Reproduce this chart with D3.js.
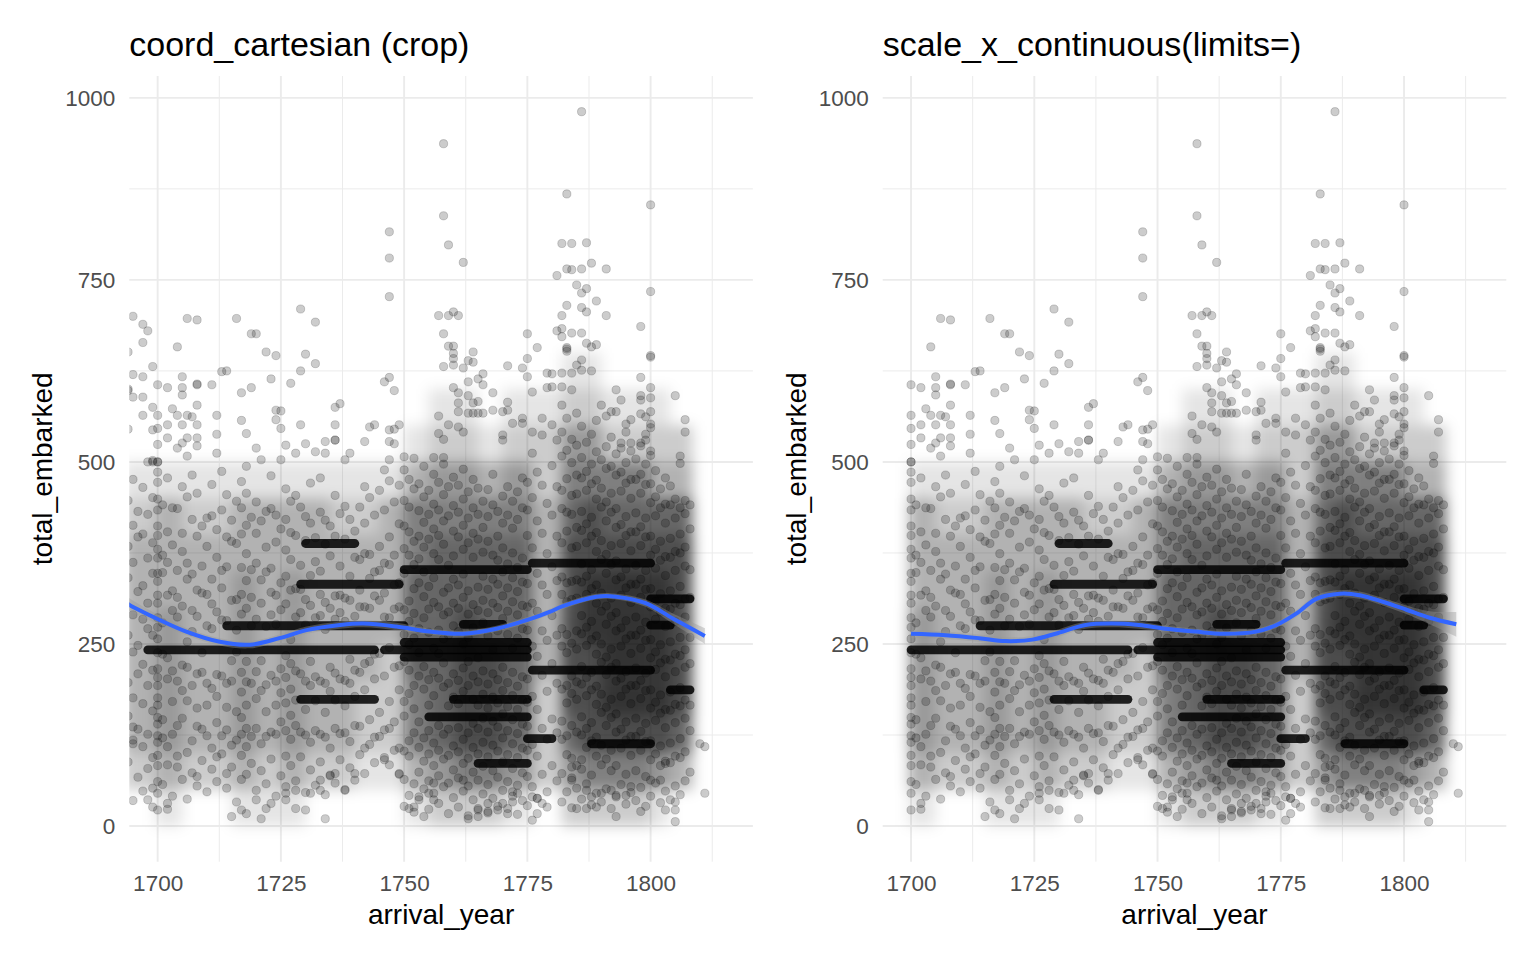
<!doctype html>
<html lang="en">
<head>
    <meta charset="utf-8">
    <title>arrival_year vs total_embarked</title>
    <script src="https://cdnjs.cloudflare.com/ajax/libs/d3/7.8.5/d3.min.js" type="text/JavaScript"></script>
    <style>
        body { margin: 0; background: #ffffff; }
        svg text { font-family: "Liberation Sans", Arial, sans-serif; }
    </style>
</head>
<body>
<svg id="chart" width="1536" height="960"></svg>
<script>

    // ---- data ----
    const panelTitles = ["coord_cartesian (crop)", "scale_x_continuous(limits=)"];
    const xTicks = [1700, 1725, 1750, 1775, 1800];
    const xMinor = [1712.5, 1737.5, 1762.5, 1787.5, 1812.5];
    const yTicks = [0, 250, 500, 750, 1000];
    const yMinor = [125, 375, 625, 875];

    // voyages that all arrived in 1700 (the dark column)
    const year1700 = [22, 45, 61, 83, 97, 115, 124, 140, 149, 166, 176, 193, 204, 216, 238, 257, 273, 286, 306, 317, 336,
        347, 368, 380, 399, 412, 434, 449, 472, 486, 500, 500, 524, 546, 564, 606];

    // body of the cloud, one row per arrival year
    const bodyByYear = [
        [1694, [88, 151, 197, 262, 341, 384, 447]],
        [1695, [35, 118, 176, 239, 290, 362, 413, 476]],
        [1696, [67, 133, 209, 248, 322, 397, 432]],
        [1697, [48, 109, 168, 222, 284, 330, 401, 465]],
        [1698, [79, 126, 193, 271, 306, 368, 428]],
        [1699, [26, 94, 158, 214, 262, 347, 389, 451]],
        [1701, [57, 121, 146, 236, 279, 348, 372, 441]],
        [1702, [84, 109, 202, 231, 317, 362, 404, 478]],
        [1703, [41, 126, 171, 213, 296, 323, 386, 437]],
        [1704, [96, 138, 199, 287, 314, 351, 436]],
        [1705, [64, 148, 186, 221, 302, 377, 402, 466]],
        [1706, [37, 101, 172, 218, 253, 339, 361, 452]],
        [1707, [73, 117, 193, 267, 296, 346, 421, 482]],
        [1708, [55, 137, 162, 209, 288, 324, 398, 457]],
        [1709, [90, 133, 211, 238, 320, 357, 412]],
        [1710, [47, 124, 166, 196, 275, 318, 384, 423]],
        [1711, [78, 107, 189, 271, 305, 339, 426, 469]],
        [1712, [61, 142, 178, 208, 294, 369, 407]],
        [1713, [99, 124, 206, 283, 327, 351, 434, 487]],
        [1714, [52, 132, 163, 196, 282, 356, 397, 455]],
        [1715, [81, 111, 199, 227, 310, 391, 420]],
        [1716, [33, 118, 157, 239, 269, 311, 388, 446]],
        [1717, [64, 97, 126, 149, 184, 211, 291, 318, 355, 401, 437, 473]],
        [1718, [71, 109, 134, 166, 198, 226, 299, 337, 374, 413, 457]],
        [1719, [86, 123, 196, 275, 314, 352, 424]],
        [1720, [49, 134, 175, 212, 284, 361, 402, 445]],
        [1721, [76, 113, 186, 227, 306, 338, 419]],
        [1722, [58, 123, 157, 194, 274, 349, 383, 432]],
        [1723, [92, 129, 207, 290, 321, 354, 436, 481]],
        [1724, [41, 126, 166, 199, 277, 317, 390, 427]],
        [1725, [69, 143, 183, 216, 297, 334, 408]],
        [1726, [54, 96, 131, 169, 204, 234, 305, 343, 379, 421, 463]],
        [1727, [83, 119, 152, 188, 223, 256, 324, 366, 403, 446]],
        [1728, [62, 138, 173, 213, 287, 326, 399, 454]],
        [1729, [95, 129, 209, 293, 325, 358, 438]],
        [1730, [46, 125, 160, 199, 276, 311, 392, 425]],
        [1731, [77, 115, 193, 226, 303, 344, 416, 471]],
        [1732, [56, 131, 172, 205, 286, 363, 396]],
        [1733, [88, 126, 199, 289, 318, 350, 431, 478]],
        [1734, [43, 122, 156, 196, 270, 307, 387, 420]],
        [1735, [69, 107, 185, 218, 299, 371, 412]],
        [1736, [59, 134, 173, 210, 284, 316, 398, 454]],
        [1737, [91, 127, 202, 293, 317, 357, 429]],
        [1738, [50, 128, 165, 200, 281, 313, 394, 439]],
        [1739, [80, 116, 196, 229, 310, 343, 421]],
        [1740, [63, 138, 178, 214, 288, 369, 405]],
        [1741, [98, 137, 211, 301, 324, 366, 438]],
        [1742, [72, 107, 187, 223, 301, 374, 416, 466]],
        [1743, [112, 146, 226, 299, 340, 373, 451]],
        [1744, [87, 122, 202, 236, 316, 349, 427]],
        [1745, [123, 156, 237, 310, 351, 384, 461]],
        [1746, [94, 132, 206, 287, 320, 361, 434, 489]],
        [1747, [134, 171, 245, 286, 359, 397, 474]],
        [1748, [104, 143, 218, 298, 331, 372, 445]],
        [1749, [71, 107, 187, 220, 301, 334, 415, 468]],
        [1750, [27, 64, 103, 151, 171, 226, 263, 297, 347, 381, 412, 447, 489]],
        [1751, [42, 96, 117, 182, 214, 249, 281, 309, 372, 404, 438, 476]],
        [1752, [19, 58, 128, 161, 193, 258, 292, 326, 359, 391, 463, 505]],
        [1753, [36, 74, 108, 143, 206, 238, 271, 334, 367, 398, 433, 470]],
        [1754, [51, 89, 121, 188, 219, 286, 315, 349, 383, 417, 452, 494]],
        [1755, [23, 62, 99, 131, 166, 201, 266, 298, 329, 394, 428, 461]],
        [1756, [45, 83, 114, 179, 211, 244, 307, 341, 374, 408, 442, 483]],
        [1757, [31, 69, 104, 138, 203, 237, 269, 301, 366, 399, 434, 472]],
        [1758, [54, 92, 126, 191, 224, 257, 290, 321, 387, 419, 455, 497]],
        [1759, [17, 59, 97, 133, 165, 196, 262, 294, 327, 358, 426, 466]],
        [1760, [39, 77, 110, 177, 209, 275, 306, 339, 371, 405, 440, 479]],
        [1761, [26, 66, 102, 135, 168, 200, 267, 299, 331, 397, 431, 468]],
        [1762, [48, 86, 119, 185, 217, 250, 314, 346, 380, 413, 449, 490]],
        [1763, [14, 55, 93, 128, 193, 226, 259, 291, 323, 389, 423, 459]],
        [1764, [36, 74, 108, 141, 174, 206, 272, 304, 369, 402, 437, 476]],
        [1765, [22, 63, 99, 134, 166, 198, 231, 296, 328, 394, 428, 464]],
        [1766, [44, 82, 115, 148, 181, 213, 279, 310, 343, 376, 410, 446]],
        [1767, [18, 57, 95, 129, 162, 195, 261, 293, 325, 391, 425, 462]],
        [1768, [38, 76, 111, 144, 177, 209, 242, 306, 339, 372, 441, 483]],
        [1769, [27, 67, 103, 136, 169, 201, 268, 300, 332, 365, 398, 432]],
        [1770, [49, 88, 121, 154, 186, 218, 285, 316, 349, 382, 416, 453]],
        [1771, [24, 61, 98, 131, 164, 197, 263, 295, 327, 360, 427, 466]],
        [1772, [41, 79, 113, 146, 179, 211, 244, 308, 341, 375, 409, 446]],
        [1773, [16, 56, 94, 127, 160, 192, 258, 290, 322, 355, 421, 459]],
        [1774, [35, 73, 107, 140, 173, 205, 271, 303, 335, 368, 437, 478]],
        [1775, [28, 68, 104, 137, 170, 202, 269, 301, 333, 399, 434, 472]],
        [1776, [54, 112, 178, 247, 306, 382, 451, 512]],
        [1777, [38, 96, 160, 233, 295, 347, 419, 486]],
        [1778, [71, 134, 207, 268, 331, 402, 468, 537]],
        [1779, [47, 119, 185, 255, 318, 374, 443]],
        [1780, [83, 147, 223, 289, 356, 427, 495, 551]],
        [1781, [62, 128, 196, 262, 337, 398, 466, 530]],
        [1782, [33, 72, 119, 144, 188, 247, 271, 318, 342, 389, 436, 461, 508, 541, 578]],
        [1783, [47, 98, 124, 169, 193, 238, 263, 308, 334, 405, 431, 477, 516, 560]],
        [1784, [25, 66, 93, 138, 182, 206, 251, 311, 336, 382, 428, 454, 499, 531]],
        [1785, [52, 83, 129, 174, 198, 243, 268, 313, 338, 384, 410, 456, 482, 523, 567]],
        [1786, [37, 78, 125, 150, 195, 219, 264, 289, 335, 360, 406, 432, 478, 506, 549]],
        [1787, [58, 108, 134, 179, 204, 248, 273, 318, 343, 389, 415, 461, 487, 527]],
        [1788, [29, 70, 117, 142, 187, 211, 256, 281, 326, 352, 398, 424, 470, 497, 538]],
        [1789, [45, 96, 122, 167, 192, 236, 261, 306, 331, 377, 403, 449, 475, 514, 557]],
        [1790, [33, 84, 111, 156, 181, 225, 250, 295, 320, 366, 392, 438, 464, 503]],
        [1791, [51, 92, 138, 163, 208, 232, 277, 302, 347, 373, 419, 445, 491, 521, 563]],
        [1792, [24, 76, 104, 149, 174, 218, 243, 288, 313, 359, 385, 431, 457, 494, 534]],
        [1793, [42, 83, 129, 154, 199, 223, 268, 293, 338, 364, 410, 436, 482, 511]],
        [1794, [57, 107, 133, 178, 203, 247, 272, 317, 342, 388, 414, 460, 486, 526]],
        [1795, [30, 71, 118, 143, 188, 212, 257, 282, 327, 353, 399, 425, 471, 499, 541]],
        [1796, [46, 97, 123, 168, 193, 237, 262, 307, 332, 378, 404, 450, 476, 515]],
        [1797, [35, 76, 123, 148, 193, 217, 262, 287, 332, 358, 404, 430, 476, 504]],
        [1798, [53, 104, 130, 175, 200, 244, 269, 314, 339, 385, 411, 457, 483, 522, 566]],
        [1799, [27, 68, 116, 141, 186, 210, 255, 280, 325, 351, 397, 423, 469, 497, 538]],
        [1800, [41, 91, 117, 162, 187, 231, 256, 301, 326, 372, 398, 444, 470, 509, 552, 588]],
        [1801, [59, 99, 145, 170, 215, 239, 284, 309, 354, 380, 426, 452, 488]],
        [1802, [32, 83, 110, 155, 180, 224, 249, 294, 319, 365, 391, 437, 463]],
        [1803, [48, 89, 135, 160, 205, 229, 274, 299, 344, 370, 416, 442, 478]],
        [1804, [36, 87, 114, 159, 184, 228, 253, 298, 323, 369, 395, 441, 467]],
        [1805, [55, 96, 142, 167, 212, 236, 281, 306, 351, 377, 423, 449]],
        [1806, [43, 94, 120, 165, 190, 234, 259, 304, 329, 375, 401, 437]],
        [1807, [62, 102, 148, 173, 218, 242, 287, 312, 357, 383, 429, 447]],
        [1808, [74, 131, 166, 223, 259, 314, 352, 408, 441]]
    ];

    // sparse points above the cloud and along the bottom
    const outliers = [
        [1694, 651], [1694, 600], [1694, 598], [1695, 700], [1697, 689], [1698, 680], [1697, 664], [1706, 697], [1708, 695],
        [1716, 697], [1704, 658], [1719, 676], [1720, 676], [1729, 710], [1732, 692], [1722, 651], [1724, 646], [1730, 648],
        [1732, 635], [1729, 625], [1713, 624], [1714, 625], [1699, 631], [1695, 620], [1697, 617], [1705, 617], [1723, 614],
        [1727, 608], [1711, 606], [1708, 606], [1708, 607], [1702, 602], [1705, 602], [1705, 592], [1717, 595],
        [1719, 602], [1695, 589], [1697, 589], [1708, 578], [1699, 575], [1703, 573], [1724, 571], [1725, 570], [1736, 575],
        [1737, 580], [1697, 564], [1704, 564], [1706, 564], [1707, 562], [1712, 564], [1717, 557], [1724, 558],
        [1729, 551], [1736, 551], [1694, 545], [1699, 544], [1702, 551], [1705, 551], [1708, 551], [1712, 538], [1718, 539],
        [1725, 546], [1702, 533], [1708, 533], [1706, 533], [1704, 519], [1705, 526], [1708, 522], [1720, 519], [1726, 523],
        [1728, 512], [1730, 525], [1732, 514], [1734, 512], [1734, 528], [1736, 530], [1712, 512], [1706, 508], [1699, 502],
        [1699, 500], [1698, 500], [1718, 494], [1721, 503], [1725, 503],
        [1758, 937], [1758, 838], [1759, 798], [1762, 774], [1747, 816], [1747, 780], [1747, 727], [1757, 701], [1759, 701],
        [1760, 706], [1761, 701], [1758, 676], [1759, 659], [1760, 659], [1760, 649], [1760, 642], [1760, 633], [1758, 631],
        [1764, 651], [1763, 639], [1764, 637], [1762, 629], [1775, 676], [1775, 642], [1774, 629], [1775, 617],
        [1771, 632], [1776, 596], [1779, 622], [1779, 602], [1766, 621], [1765, 614], [1766, 606], [1763, 610], [1768, 595],
        [1760, 602], [1761, 595], [1746, 610], [1747, 616], [1748, 598], [1761, 581], [1763, 591], [1764, 581], [1765, 583],
        [1761, 569], [1763, 567], [1764, 567], [1765, 567], [1766, 567], [1768, 571], [1770, 569], [1771, 571], [1771, 582],
        [1757, 563], [1759, 551], [1761, 548], [1762, 541], [1757, 539], [1758, 531], [1772, 553], [1774, 560], [1774, 553],
        [1776, 541], [1778, 560], [1770, 537], [1770, 530], [1736, 530], [1743, 548], [1744, 551], [1747, 544],
        [1748, 545], [1749, 551], [1742, 528], [1747, 528], [1748, 525], [1739, 512], [1738, 503], [1750, 507], [1747, 503],
        [1756, 506], [1758, 506],
        [1786, 981], [1783, 868], [1800, 853], [1782, 800], [1784, 800], [1787, 801], [1781, 756], [1783, 765], [1784, 764],
        [1786, 765], [1788, 773], [1791, 765], [1800, 734], [1785, 743], [1786, 732], [1787, 738], [1789, 721], [1783, 715],
        [1782, 701], [1786, 712], [1787, 706], [1791, 701], [1798, 686], [1781, 680], [1782, 683], [1782, 672], [1784, 677],
        [1786, 677], [1777, 657], [1783, 657], [1783, 655], [1783, 652], [1787, 663], [1788, 658], [1789, 661], [1800, 646],
        [1800, 644], [1798, 616], [1800, 602], [1805, 591], [1798, 591], [1798, 585], [1793, 599], [1794, 585], [1807, 558],
        [1807, 541], [1806, 508], [1806, 498], [1786, 640], [1785, 633], [1786, 626], [1784, 622], [1782, 622], [1780, 621],
        [1788, 625], [1782, 603], [1780, 603], [1784, 599], [1790, 578], [1792, 569], [1793, 569], [1796, 558], [1795, 552],
        [1798, 526], [1796, 526], [1794, 519], [1799, 530], [1800, 547], [1800, 569], [1799, 562], [1800, 515],
        [1698, 36], [1702, 31], [1702, 23], [1699, 52], [1704, 81], [1708, 68], [1712, 95], [1714, 72], [1715, 13],
        [1717, 22], [1718, 17], [1720, 36], [1722, 24], [1723, 31], [1721, 10], [1726, 36], [1726, 45], [1728, 24],
        [1730, 22], [1728, 49], [1731, 45], [1734, 10], [1733, 49], [1733, 63], [1735, 70], [1695, 113], [1695, 136],
        [1738, 49], [1740, 72], [1736, 72], [1746, 91], [1747, 84], [1749, 72], [1751, 24], [1752, 26], [1754, 13],
        [1753, 40], [1755, 45], [1756, 36], [1756, 59], [1762, 63], [1763, 10], [1765, 13], [1767, 20], [1769, 22],
        [1771, 17], [1765, 24], [1767, 31], [1770, 31], [1772, 33], [1772, 47], [1773, 45], [1776, 8], [1777, 17],
        [1776, 40], [1778, 31], [1785, 24], [1787, 24], [1789, 26], [1793, 13], [1798, 20], [1803, 22], [1805, 33],
        [1805, 22], [1805, 6], [1811, 45], [1810, 113], [1811, 109], [1777, 38], [1779, 26], [1788, 40], [1790, 45],
        [1792, 49], [1795, 42], [1796, 54], [1800, 63], [1802, 63], [1803, 86], [1784, 63], [1784, 81], [1786, 91],
        [1793, 40], [1787, 49]
    ];

    // runs of identical totals: [first year, last year, total_embarked]
    const bands = [
        [1698, 1744, 242], [1746, 1775, 242], [1714, 1750, 275], [1762, 1770, 277], [1729, 1749, 332], [1730, 1740, 388],
        [1729, 1744, 174], [1750, 1775, 352], [1776, 1800, 361], [1750, 1775, 252], [1750, 1775, 232], [1776, 1800, 214],
        [1760, 1775, 174], [1755, 1775, 150], [1765, 1775, 86], [1775, 1780, 120], [1788, 1800, 113], [1800, 1808, 312],
        [1800, 1804, 276], [1804, 1808, 187]
    ];

    // how dark the over-plotted cloud is: one string per year bin, one digit per 50 passengers (from 0 up)
    const densityEdges = [1693, 1699.5, 1705, 1710, 1715, 1720, 1725, 1730, 1735, 1740, 1745, 1750, 1755, 1760,
        1765, 1770, 1776, 1782, 1786, 1790, 1795, 1800, 1804, 1808.5];
    const densityCols = [
        "02333333210000", "13444433310000", "02333333210000", "02333333210000",
        "13444443310000", "12333333310000", "13444443310000", "02333333310000",
        "02333333210000", "01223333210000", "01222333310000", "13556665531000",
        "24666666542100", "25777766542100", "25777666531000", "14666666542100",
        "02223333322100", "24677777654210", "25777887754210", "25788887652100",
        "25788887652100", "14788887632100", "03677777632000"
    ];

    // loess fits: [year, fit, half-width of band]
    const smoothCrop = [
        [1693, 310, 10], [1694.2, 304, 9], [1700.4, 283, 6], [1705.8, 267, 5], [1712.6, 253, 5], [1718.7, 249, 5],
        [1724.7, 258, 5], [1730.2, 269, 5], [1737, 276, 5], [1741.7, 278, 5], [1748.4, 274, 5], [1755.2, 267, 4],
        [1762, 264, 4], [1768.7, 271, 4], [1775.5, 284, 4], [1779.5, 294, 4], [1782.2, 302, 4], [1789, 315, 4],
        [1793, 315, 4], [1799, 306, 5], [1804.5, 285, 7], [1811, 261, 11]
    ];
    const smoothLimits = [
        [1700, 264, 6], [1707, 262, 5], [1713.8, 258, 5], [1719.2, 254, 5], [1724.6, 256, 5], [1729.3, 264, 5],
        [1735.4, 276, 5], [1740.8, 278, 5], [1746.2, 276, 5], [1751.6, 271, 4], [1757.7, 267, 4], [1763.3, 264, 4],
        [1770, 267, 4], [1774.1, 276, 4], [1778.2, 292, 5], [1782.2, 312, 5], [1787, 319, 5], [1791, 317, 5],
        [1795.7, 308, 5], [1800.5, 297, 6], [1805.2, 286, 9], [1810.6, 277, 17]
    ];

    // ---- drawing ----
    const allPoints = []
        .concat(year1700.map(v => [1700, v]))
        .concat(...bodyByYear.map(([yr, vals]) => vals.map(v => [yr, v])))
        .concat(outliers);

    const svg = d3.select("#chart");
    svg.append("rect").attr("width", 1536).attr("height", 960).attr("fill", "#ffffff");

    const defs = svg.append("defs");
    defs.append("filter").attr("id", "soft")
        .attr("x", "-10%").attr("y", "-10%").attr("width", "120%").attr("height", "120%")
        .append("feGaussianBlur").attr("stdDeviation", 7);

    const panelWidth = 623.6;
    const y = d3.scaleLinear().domain([-49, 1030]).range([861.7, 76]);

    const panels = [
        {title: panelTitles[0], left: 129.3, minYear: -Infinity, smooth: smoothCrop},
        {title: panelTitles[1], left: 882.7, minYear: 1700, smooth: smoothLimits}
    ];

    panels.forEach((p, i) => {
        const x = d3.scaleLinear().domain([1694.25, 1820.75]).range([p.left, p.left + panelWidth]);
        const g = svg.append("g");

        defs.append("clipPath").attr("id", "clip" + i)
            .append("rect")
            .attr("x", p.left).attr("y", y.range()[1])
            .attr("width", panelWidth).attr("height", y.range()[0] - y.range()[1]);

        // grid
        g.selectAll(".vminor").data(xMinor).join("line")
            .attr("x1", d => x(d)).attr("x2", d => x(d))
            .attr("y1", y.range()[1]).attr("y2", y.range()[0])
            .attr("stroke", "#ebebeb").attr("stroke-width", 1);
        g.selectAll(".hminor").data(yMinor).join("line")
            .attr("x1", p.left).attr("x2", p.left + panelWidth)
            .attr("y1", d => y(d)).attr("y2", d => y(d))
            .attr("stroke", "#ebebeb").attr("stroke-width", 1);
        g.selectAll(".vmajor").data(xTicks).join("line")
            .attr("x1", d => x(d)).attr("x2", d => x(d))
            .attr("y1", y.range()[1]).attr("y2", y.range()[0])
            .attr("stroke", "#ebebeb").attr("stroke-width", 1.9);
        g.selectAll(".hmajor").data(yTicks).join("line")
            .attr("x1", p.left).attr("x2", p.left + panelWidth)
            .attr("y1", d => y(d)).attr("y2", d => y(d))
            .attr("stroke", "#ebebeb").attr("stroke-width", 1.9);

        const plot = g.append("g").attr("clip-path", `url(#clip${i})`);

        // over-plotting shade
        const cells = [];
        densityCols.forEach((col, c) => {
            if (densityEdges[c] < p.minYear - 1) return;
            col.split("").forEach((ch, r) => {
                if (+ch > 0) cells.push({x0: densityEdges[c], x1: densityEdges[c + 1], v0: r * 50, v1: r * 50 + 50, level: +ch});
            });
        });
        plot.append("g").attr("filter", "url(#soft)")
            .selectAll("rect").data(cells).join("rect")
            .attr("x", d => x(d.x0)).attr("width", d => x(d.x1) - x(d.x0))
            .attr("y", d => y(d.v1)).attr("height", d => y(d.v0) - y(d.v1))
            .attr("fill", "#000").attr("fill-opacity", d => Math.min(0.86, d.level * 0.1));

        // points
        plot.append("g").selectAll("circle")
            .data(allPoints.filter(d => d[0] >= p.minYear))
            .join("circle")
            .attr("cx", d => x(d[0])).attr("cy", d => y(d[1])).attr("r", 4.1)
            .attr("fill", "#000").attr("fill-opacity", 0.2)
            .attr("stroke", "#000").attr("stroke-opacity", 0.2).attr("stroke-width", 0.9);

        // repeated totals
        plot.append("g").selectAll("line")
            .data(bands.filter(d => d[1] >= p.minYear))
            .join("line")
            .attr("x1", d => x(Math.max(d[0], p.minYear))).attr("x2", d => x(d[1]))
            .attr("y1", d => y(d[2])).attr("y2", d => y(d[2]))
            .attr("stroke", "#000").attr("stroke-opacity", 0.85)
            .attr("stroke-width", 8.8).attr("stroke-linecap", "round");

        // smoother
        plot.append("path").datum(p.smooth)
            .attr("fill", "#999999").attr("fill-opacity", 0.4)
            .attr("d", d3.area().curve(d3.curveCatmullRom)
                .x(d => x(d[0])).y0(d => y(d[1] - d[2])).y1(d => y(d[1] + d[2])));
        plot.append("path").datum(p.smooth)
            .attr("fill", "none").attr("stroke", "#3366ff").attr("stroke-width", 4)
            .attr("d", d3.line().curve(d3.curveCatmullRom).x(d => x(d[0])).y(d => y(d[1])));

        // axes (labels only, as in theme_minimal)
        const xAxis = g.append("g")
            .attr("transform", `translate(0,${y.range()[0]})`)
            .call(d3.axisBottom(x).tickValues(xTicks).tickFormat(d3.format("d")).tickSize(0).tickPadding(13));
        const yAxis = g.append("g")
            .attr("transform", `translate(${p.left},0)`)
            .call(d3.axisLeft(y).tickValues(yTicks).tickFormat(d3.format("d")).tickSize(0).tickPadding(14));
        [xAxis, yAxis].forEach(a => {
            a.select(".domain").remove();
            a.selectAll("text")
                .attr("fill", "#4d4d4d")
                .style("font-size", "22.5px")
                .style("font-family", "'Liberation Sans', Arial, sans-serif");
        });

        g.append("text")
            .attr("x", p.left).attr("y", 56)
            .attr("font-size", 34).attr("fill", "#000")
            .text(p.title);

        g.append("text")
            .attr("x", p.left + panelWidth / 2).attr("y", 924)
            .attr("text-anchor", "middle")
            .attr("font-size", 28).attr("fill", "#000")
            .text("arrival_year");

        g.append("text")
            .attr("transform", `translate(${p.left - 77},${(y.range()[0] + y.range()[1]) / 2}) rotate(-90)`)
            .attr("text-anchor", "middle")
            .attr("font-size", 28).attr("fill", "#000")
            .text("total_embarked");
    });

</script>
</body>
</html>
